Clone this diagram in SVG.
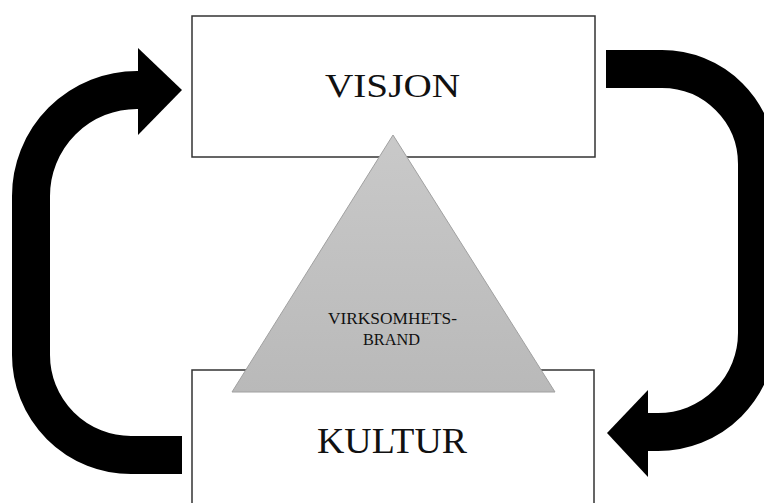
<svg xmlns="http://www.w3.org/2000/svg" width="764" height="503" viewBox="0 0 764 503">
<defs>
<style>
.box{fill:#fff;stroke:#333;stroke-width:1.5}
.shaft{fill:none;stroke:#000;stroke-width:38}
.head{fill:#000}
.lbl{font-family:"Liberation Serif","Times New Roman",serif;fill:#111;text-anchor:start}
</style>
<linearGradient id="tg" x1="0" y1="0" x2="0" y2="1">
<stop offset="0" stop-color="#c9c9c9"/>
<stop offset="1" stop-color="#b9b9b9"/>
</linearGradient>
</defs>
<rect width="764" height="503" fill="#fff"/>
<g id="connectors">
<path class="shaft" d="M182 455 H131 A100 100 0 0 1 31 355 V196 A106 106 0 0 1 137 90 H142"/>
<polygon class="head" points="138,48 182,90 138,135"/>
<path class="shaft" d="M606 69 H662 A95 95 0 0 1 757 164 V333 A99 99 0 0 1 658 432 H644"/>
<polygon class="head" points="648,390 607,433 648,477"/>
</g>
<g id="visjon">
<rect class="box" x="192" y="16" width="403" height="141"/>
<text class="lbl" x="325" y="97" font-size="34" textLength="135" lengthAdjust="spacingAndGlyphs">VISJON</text>
</g>
<g id="kultur">
<rect class="box" x="192" y="370" width="402" height="150"/>
<text class="lbl" x="317" y="453" font-size="35" textLength="150" lengthAdjust="spacingAndGlyphs">KULTUR</text>
</g>
<g id="brand">
<polygon points="393,135 555,392 232,392" fill="url(#tg)" stroke="#a0a0a0" stroke-width="1"/>
<text class="lbl" x="328" y="324" font-size="17" textLength="129" lengthAdjust="spacingAndGlyphs">VIRKSOMHETS-</text>
<text class="lbl" x="363" y="345" font-size="17" textLength="57" lengthAdjust="spacingAndGlyphs">BRAND</text>
</g>
</svg>
